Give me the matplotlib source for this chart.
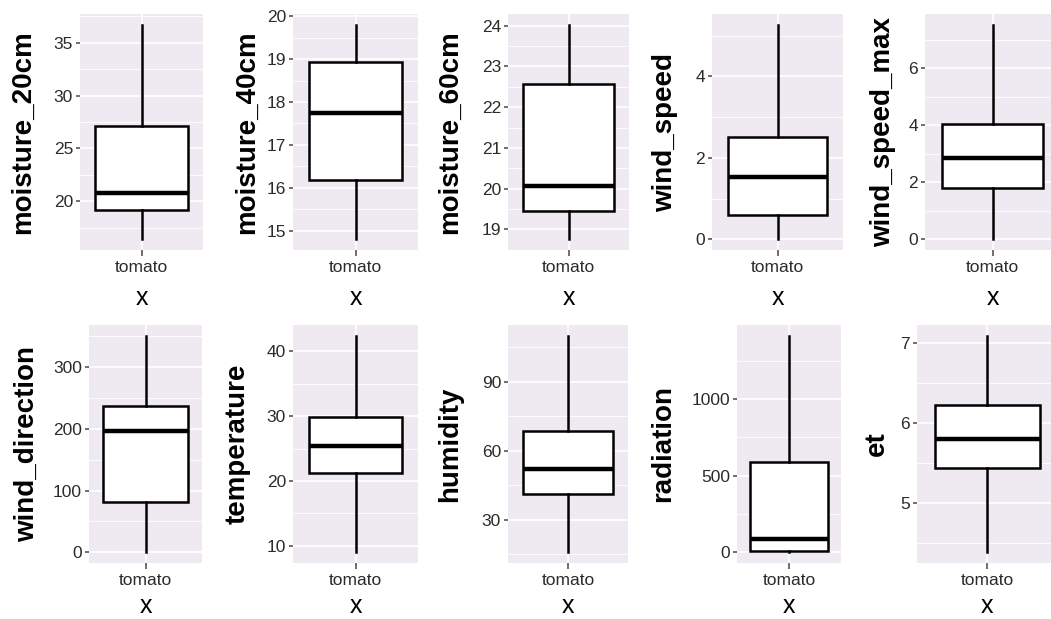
import matplotlib
matplotlib.use("Agg")
import matplotlib.pyplot as plt

# boxplot summaries (one box per variable, group "tomato")
variables = ["moisture_20cm", "moisture_40cm", "moisture_60cm", "wind_speed", "wind_speed_max",
             "wind_direction", "temperature", "humidity", "radiation", "et"]
whisker_low = [16.4, 14.8, 18.76, 0.0, 0.0, 0, 9.0, 15.8, 0, 4.38]
q1 = [19.2, 16.19, 19.46, 0.6, 1.78, 81, 21.3, 41.2, 5, 5.44]
medians = [20.8, 17.74, 20.07, 1.52, 2.85, 196, 25.4, 52, 89, 5.8]
q3 = [27.1, 18.93, 22.56, 2.5, 4.03, 237, 29.8, 68.4, 591, 6.22]
whisker_high = [36.7, 19.8, 24.02, 5.27, 7.52, 351, 42.4, 110, 1412, 7.09]
group = "tomato"

yticks = [[20, 25, 30, 35], [15, 16, 17, 18, 19, 20], [19, 20, 21, 22, 23, 24],
          [0, 2, 4], [0, 2, 4, 6], [0, 100, 200, 300], [10, 20, 30, 40],
          [30, 60, 90], [0, 500, 1000], [5, 6, 7]]

W, H = 1051, 619
# panel extents in pixels (left, right), per row, and (top, bottom) per row
cols = [[(80, 203), (293, 418), (508, 629), (712, 843), (925, 1060)],
        [(89, 202), (293, 418), (508, 628), (737, 841), (917, 1057)]]
rows = [(14, 250), (325, 563)]
ylab_x = [[23, 247, 450, 665, 883], [27, 238, 450, 663, 877]]
xlab_base = [305, 613]  # baseline of the "x" titles

plt.rcParams["font.family"] = ["Liberation Sans", "DejaVu Sans"]
BG = "#EFEAF2"
TXT = "#2b2b2b"

fig = plt.figure(figsize=(W / 100, H / 100), dpi=100)
fig.patch.set_facecolor("white")

for i, name in enumerate(variables):
    r, c = divmod(i, 5)
    (x0, x1), (y0, y1) = cols[r][c], rows[r]
    ax = fig.add_axes([x0 / W, 1 - y1 / H, (x1 - x0) / W, (y1 - y0) / H])
    ax.set_facecolor(BG)
    for s in ax.spines.values():
        s.set_visible(False)

    lo, hi = whisker_low[i], whisker_high[i]
    pad = (hi - lo) * 0.05
    ax.set_ylim(lo - pad, hi + pad)
    ax.set_xlim(0.4, 1.6)

    # ggplot style grid: major + minor (midpoints)
    t = yticks[i]
    step = t[1] - t[0]
    minors = [v + step / 2 for v in [t[0] - step] + t]
    for v in minors:
        ax.axhline(v, color="white", lw=0.6, zorder=0)
    for v in t:
        ax.axhline(v, color="white", lw=1.2, zorder=0)
    ax.axvline(1, color="white", lw=1.2, zorder=0)

    stats = [dict(whislo=whisker_low[i], q1=q1[i], med=medians[i], q3=q3[i],
                  whishi=whisker_high[i], fliers=[], label=group)]
    ax.bxp(stats, positions=[1], widths=0.9, showcaps=False, showfliers=False,
           patch_artist=True,
           boxprops=dict(facecolor="white", edgecolor="black", linewidth=1.8),
           whiskerprops=dict(color="black", linewidth=1.8),
           medianprops=dict(color="black", linewidth=3.2))

    ax.set_yticks(t)
    ax.set_yticklabels([str(v) for v in t])
    ax.tick_params(axis="both", length=3, width=1.2, color="#555555",
                   labelsize=12.5, labelcolor=TXT, pad=2)
    ax.tick_params(axis="x", length=4, pad=3)
    ax.set_xticks([1])
    ax.set_xticklabels([group])

    fig.text(ylab_x[r][c] / W, 1 - (y0 + y1) / 2 / H, name, rotation=90,
             ha="center", va="center", fontsize=20, fontweight="bold", color="black")
    fig.text((x0 + x1) / 2 / W, 1 - xlab_base[r] / H, "x", ha="center", va="baseline",
             fontsize=18, color="black")

fig.savefig("out.png", dpi=100, facecolor="white")
